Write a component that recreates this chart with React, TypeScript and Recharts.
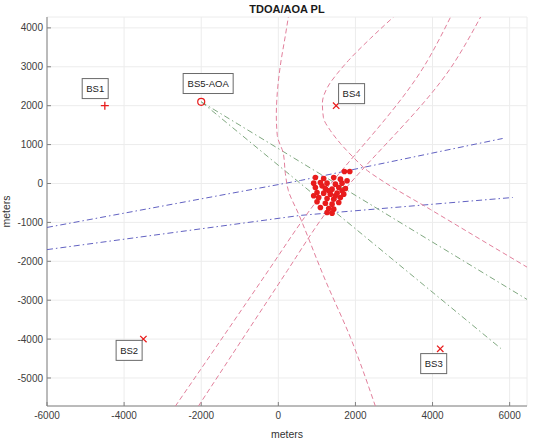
import React from "react";
import {
  ScatterChart,
  Scatter,
  XAxis,
  YAxis,
  CartesianGrid,
} from "recharts";

// axes
const xTicks = [-6000, -4000, -2000, 0, 2000, 4000, 6000];
const yTicks = [-5000, -4000, -3000, -2000, -1000, 0, 1000, 2000, 3000, 4000];
const xDomain = [-6000, 6450];
const yDomain = [-5720, 4280];

// base stations
const bs1 = [{ x: -4500, y: 2000 }];
const bsCross = [
  { x: -3500, y: -4000 },
  { x: 4200, y: -4250 },
  { x: 1500, y: 2000 },
];
const bs5Aoa = [{ x: -2000, y: 2100 }];

// station labels
const labelNames = ["BS1", "BS5-AOA", "BS4", "BS2", "BS3"];
const labelX = [-4750, -1820, 1900, -3870, 4030];
const labelY = [2440, 2570, 2310, -4290, -4630];

// TDOA hyperbolas (pink), ordered bottom -> top
const hypA = [
  { x: 2519, y: -5730 },
  { x: 1870, y: -3960 },
  { x: 1221, y: -2490 },
  { x: 519, y: -770 },
  { x: 260, y: -180 },
  { x: 182, y: 260 },
  { x: 130, y: 770 },
  { x: -26, y: 1230 },
  { x: -52, y: 1750 },
  { x: -26, y: 2340 },
  { x: 52, y: 3030 },
  { x: 182, y: 3800 },
  { x: 260, y: 4280 },
];
const hypB = [
  { x: 6468, y: -2160 },
  { x: 5247, y: -1440 },
  { x: 3948, y: -670 },
  { x: 2727, y: 50 },
  { x: 2312, y: 330 },
  { x: 1948, y: 670 },
  { x: 1610, y: 1030 },
  { x: 1351, y: 1360 },
  { x: 1169, y: 1700 },
  { x: 1143, y: 2060 },
  { x: 1273, y: 2470 },
  { x: 1532, y: 2830 },
  { x: 1818, y: 3160 },
  { x: 2390, y: 3730 },
  { x: 2987, y: 4280 },
];
const hypC = [
  { x: -2675, y: -5730 },
  { x: -260, y: -2240 },
  { x: 623, y: -950 },
  { x: 3870, y: 3160 },
  { x: 4468, y: 4280 },
];
const hypD = [
  { x: -2078, y: -5730 },
  { x: 234, y: -2240 },
  { x: 1091, y: -950 },
  { x: 4597, y: 3160 },
  { x: 5247, y: 4280 },
];

// blue dash-dot curves
const blueA = [
  { x: -6000, y: -1130 },
  { x: 571, y: 77 },
  { x: 5818, y: 1157 },
];
const blueB = [
  { x: -6000, y: -1700 },
  { x: 571, y: -820 },
  { x: 6078, y: -360 },
];

// AOA bearing lines (green)
const aoaA = [
  { x: -2000, y: 2100 },
  { x: 6450, y: -2980 },
];
const aoaB = [
  { x: -2000, y: 2100 },
  { x: 5770, y: -4240 },
];

// position estimates
const estimates = [
  { x: 1714, y: 309 }, { x: 1853, y: 309 }, { x: 961, y: 154 }, { x: 1177, y: 129 },
  { x: 1437, y: 154 }, { x: 1610, y: 112 }, { x: 1783, y: 69 }, { x: 917, y: 9 },
  { x: 1091, y: 26 }, { x: 1264, y: 9 }, { x: 1480, y: -17 }, { x: 1653, y: 9 },
  { x: 961, y: -103 }, { x: 1220, y: -128 }, { x: 1394, y: -146 }, { x: 1567, y: -103 },
  { x: 1740, y: -128 }, { x: 1004, y: -231 }, { x: 1177, y: -248 }, { x: 1350, y: -274 },
  { x: 1524, y: -248 }, { x: 1697, y: -274 }, { x: 1047, y: -360 }, { x: 1264, y: -386 },
  { x: 1437, y: -403 }, { x: 1610, y: -360 }, { x: 1004, y: -471 }, { x: 1220, y: -506 },
  { x: 1394, y: -531 }, { x: 1567, y: -488 }, { x: 1091, y: -617 }, { x: 1307, y: -643 },
  { x: 1437, y: -660 }, { x: 1264, y: -746 }, { x: 1394, y: -763 }, { x: 1134, y: -60 },
  { x: 1307, y: -188 }, { x: 1480, y: -317 }, { x: 917, y: -317 }, { x: 1653, y: -188 },
];

const labels = labelNames.map((name, i) => ({ name, x: labelX[i], y: labelY[i] }));

const PINK = "#e2809c";
const BLUE = "#6262c2";
const GREEN = "#80a880";
const RED = "#e81c1c";
const AXIS = "#808080";

const noDot = () => <g />;

const PlusMark = (p: any) => (
  <path
    d={`M${p.cx - 4},${p.cy}h8M${p.cx},${p.cy - 4}v8`}
    stroke={RED}
    strokeWidth={1.3}
  />
);

const XMark = (p: any) => (
  <path
    d={`M${p.cx - 3.2},${p.cy - 3.2}L${p.cx + 3.2},${p.cy + 3.2}M${p.cx + 3.2},${p.cy - 3.2}L${p.cx - 3.2},${p.cy + 3.2}`}
    stroke={RED}
    strokeWidth={1.3}
  />
);

const CircleMark = (p: any) => (
  <circle cx={p.cx} cy={p.cy} r={3.5} fill="none" stroke={RED} strokeWidth={1.2} />
);

const Dot = (p: any) => <circle cx={p.cx} cy={p.cy} r={2.8} fill={RED} />;

const LabelBox = (p: any) => {
  const name: string = p.payload.name;
  const w = name.length * 6 + 8;
  return (
    <g>
      <rect x={p.cx - w / 2} y={p.cy - 10} width={w} height={20} fill="#fff" stroke="#6a6a6a" strokeWidth={1} />
      <text
        x={p.cx}
        y={p.cy}
        textAnchor="middle"
        dominantBaseline="central"
        fontSize={9.5}
        fontFamily="Liberation Sans, Arial, sans-serif"
        fill="#222"
      >
        {name}
      </text>
    </g>
  );
};

const tickStyle = { fontSize: 10, fill: "#404040", fontFamily: "Liberation Sans, Arial, sans-serif" };

function curve(data: { x: number; y: number }[], color: string, dash: string, joint: any = "linear") {
  return (
    <Scatter
      data={data}
      line={{ stroke: color, strokeWidth: 1, strokeDasharray: dash }}
      lineJointType={joint}
      shape={noDot}
      isAnimationActive={false}
    />
  );
}

export default function App() {
  return (
    <div style={{ position: "absolute", left: 0, top: 0, width: 533, height: 441, background: "#fff" }}>
      <div
        style={{
          position: "absolute",
          left: 47,
          width: 480,
          top: 3,
          textAlign: "center",
          fontFamily: "Liberation Sans, Arial, sans-serif",
          fontWeight: "bold",
          fontSize: 11,
          color: "#1a1a1a",
        }}
      >
        TDOA/AOA PL
      </div>
      <ScatterChart width={533} height={441} margin={{ top: 17, right: 6, bottom: 0, left: 0 }}>
        <CartesianGrid stroke="#ececec" />
        <XAxis
          type="number"
          dataKey="x"
          domain={xDomain}
          ticks={xTicks}
          allowDataOverflow
          height={35}
          tickSize={-4}
          tickMargin={10}
          tick={tickStyle}
          stroke={AXIS}
          label={{ value: "meters", position: "insideBottom", offset: 3, fontSize: 10.5, fill: "#333", fontFamily: "Liberation Sans, Arial, sans-serif" }}
        />
        <YAxis
          type="number"
          dataKey="y"
          domain={yDomain}
          ticks={yTicks}
          allowDataOverflow
          width={47}
          tickSize={-4}
          tickMargin={8}
          tick={tickStyle}
          stroke={AXIS}
          label={{ value: "meters", angle: -90, position: "insideLeft", offset: 6, fontSize: 10.5, fill: "#333", fontFamily: "Liberation Sans, Arial, sans-serif", style: { textAnchor: "middle" } }}
        />
        <XAxis
          xAxisId="top"
          orientation="top"
          type="number"
          domain={xDomain}
          ticks={xTicks}
          allowDataOverflow
          height={0}
          tickSize={-4}
          tick={false}
          stroke={AXIS}
        />
        <YAxis
          yAxisId="right"
          orientation="right"
          type="number"
          domain={yDomain}
          ticks={yTicks}
          allowDataOverflow
          width={0}
          tickSize={-4}
          tick={false}
          stroke={AXIS}
        />
        {curve(blueA, BLUE, "6 3 1.5 3")}
        {curve(blueB, BLUE, "6 3 1.5 3")}
        {curve(aoaA, GREEN, "6 3 1.5 3")}
        {curve(aoaB, GREEN, "6 3 1.5 3")}
        {curve(hypA, PINK, "5 3", "monotoneY")}
        {curve(hypB, PINK, "5 3", "monotoneY")}
        {curve(hypC, PINK, "5 3", "monotoneY")}
        {curve(hypD, PINK, "5 3", "monotoneY")}
        <Scatter data={estimates} shape={Dot} isAnimationActive={false} />
        <Scatter data={bs1} shape={PlusMark} isAnimationActive={false} />
        <Scatter data={bsCross} shape={XMark} isAnimationActive={false} />
        <Scatter data={bs5Aoa} shape={CircleMark} isAnimationActive={false} />
        <Scatter data={labels} shape={LabelBox} isAnimationActive={false} />
      </ScatterChart>
    </div>
  );
}
